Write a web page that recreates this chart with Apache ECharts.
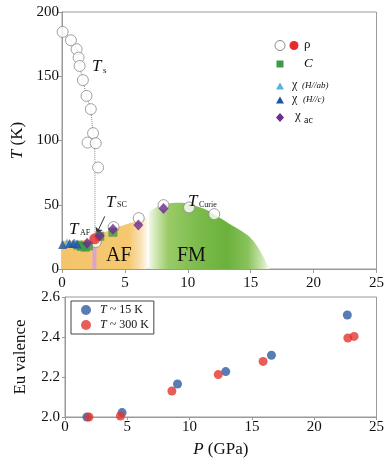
<!DOCTYPE html>
<html>
<head>
<meta charset="utf-8">
<script src="https://cdn.jsdelivr.net/npm/echarts@6/dist/echarts.min.js"></script>
<style>
  html, body { margin: 0; padding: 0; background: #fff; }
  #chart { width: 387px; height: 464px; }
</style>
</head>
<body>
<div id="chart"></div>
<script>
// ---- Phase diagram (P, T) ----
const tsCircles = [[0.05,184.5],[0.71,178],[1.16,171],[1.32,164.5],[1.4,158],[1.66,147],[1.95,134.7],[2.29,124.4],[2.47,105.7],[2.03,98.4],[2.68,97.9],[2.87,79]];
const tsLine = [[0.05,184.5],[0.71,178],[1.16,171],[1.32,164.5],[1.4,158],[1.66,147],[1.95,134.7],[2.29,124.4],[2.47,105.7],[2.6,98],[2.62,79],[2.62,24]];
const rhoOpen = [[2.68,21],[4.1,32.6],[6.1,39.6],[8.07,49.7],[10.1,47.9],[12.1,42.7]];
const rhoSC = [[2.6,23.5]];
const heatC = [[1.3,18.5],[1.55,17.5],[1.85,17],[2.1,18],[3.0,25.5],[4.05,28.6]];
const chiAB = [[0.4,20.5],[1.0,20.5]];
const chiC = [[0.05,19],[0.6,19.8],[0.9,19.8],[1.2,19.5]];
const chiAC = [[2.0,20],[3.0,25.8],[4.05,31],[6.07,34.3],[8.07,47]];
const afBoundary = [[0,22],[2.5,23],[3,27],[4,31],[5,34.5],[6,37.5],[6.8,40]];
const fmBoundary = [[6.9,44],[7.5,48],[8.5,51],[9.5,51.5],[10.5,49.5],[11.5,46],[12.5,40],[13.5,34],[14.5,28],[15.2,22],[15.8,13],[16.5,0]];
const scBand = [[2.42,23],[2.74,23]];

// ---- Eu valence vs P ----
const pLowT = [1.76,4.58,9.03,12.9,16.57,22.66];
const vLowT = [2.0,2.022,2.165,2.227,2.309,2.51];
const pRoomT = [1.92,4.45,8.58,12.3,15.9,22.7,23.2];
const vRoomT = [2.0,2.005,2.13,2.212,2.278,2.395,2.403];

const xTicks = [0,5,10,15,20,25];
const tTicks = [0,50,100,150,200];
const vTicks = [2.0,2.2,2.4,2.6];

const SERIF = 'Liberation Serif';
const AXIS_GREY = '#9a9a9a';
const labelStyle = { fontFamily: SERIF, fontSize: 15, color: '#111' };

function zip(xs, ys) { return xs.map((x, i) => [x, ys[i]]); }

const chart = echarts.init(document.getElementById('chart'), null, { renderer: 'canvas' });

const afGrad = new echarts.graphic.LinearGradient(0, 0, 1, 0, [
  { offset: 0, color: '#f4c46a' },
  { offset: 0.78, color: '#f5c870' },
  { offset: 0.92, color: '#f9e2b4' },
  { offset: 1, color: '#fffaf2' }
]);
const fmGrad = new echarts.graphic.LinearGradient(0, 0, 1, 0, [
  { offset: 0, color: '#f2f8ea' },
  { offset: 0.06, color: '#cfe6b1' },
  { offset: 0.16, color: '#9acb68' },
  { offset: 0.4, color: '#7cbc4c' },
  { offset: 0.65, color: '#6cb13c' },
  { offset: 0.82, color: '#88c25c' },
  { offset: 0.93, color: '#c6e3a8' },
  { offset: 1, color: '#f5faef' }
]);

const ticksInside = { show: true, inside: true, length: 4, lineStyle: { color: AXIS_GREY } };
const ticksOutside = { show: true, inside: false, length: 3, lineStyle: { color: AXIS_GREY } };

const option = {
  animation: false,
  backgroundColor: '#fff',
  grid: [
    { left: 62, top: 12, width: 317, height: 257, show: true, borderColor: AXIS_GREY, borderWidth: 1 },
    { left: 65, top: 297, width: 313, height: 120, show: true, borderColor: AXIS_GREY, borderWidth: 1 }
  ],
  xAxis: [
    { gridIndex: 0, type: 'value', min: 0, max: 25, interval: 5, position: 'bottom',
      axisLine: { lineStyle: { color: AXIS_GREY } }, axisTick: ticksOutside,
      axisLabel: Object.assign({ margin: 7 }, labelStyle), splitLine: { show: false } },
    { gridIndex: 0, type: 'value', min: 0, max: 25, interval: 5, position: 'top',
      axisLine: { lineStyle: { color: AXIS_GREY } }, axisTick: ticksInside,
      axisLabel: { show: false }, splitLine: { show: false } },
    { gridIndex: 1, type: 'value', min: 0, max: 25, interval: 5,
      name: '{i|P} (GPa)', nameLocation: 'middle', nameGap: 24,
      nameTextStyle: { fontFamily: SERIF, fontSize: 17, color: '#111', rich: { i: { fontFamily: SERIF, fontStyle: 'italic', fontSize: 17, color: '#111' } } },
      axisLine: { lineStyle: { color: AXIS_GREY } }, axisTick: ticksOutside,
      axisLabel: Object.assign({ margin: 3 }, labelStyle), splitLine: { show: false } }
  ],
  yAxis: [
    { gridIndex: 0, type: 'value', min: 0, max: 200, interval: 50,
      name: '{i|T} (K)', nameLocation: 'middle', nameGap: 34, nameRotate: 90,
      nameTextStyle: { fontFamily: SERIF, fontSize: 17, color: '#111', rich: { i: { fontFamily: SERIF, fontStyle: 'italic', fontSize: 17, color: '#111' } } },
      axisLine: { show: true, lineStyle: { color: AXIS_GREY } }, axisTick: ticksOutside,
      axisLabel: Object.assign({ margin: 3 }, labelStyle), splitLine: { show: false } },
    { gridIndex: 0, type: 'value', min: 0, max: 200, interval: 50, position: 'right',
      axisLine: { show: true, lineStyle: { color: AXIS_GREY } }, axisTick: ticksInside,
      axisLabel: { show: false }, splitLine: { show: false } },
    { gridIndex: 1, type: 'value', min: 2.0, max: 2.6, interval: 0.2,
      name: 'Eu valence', nameLocation: 'middle', nameGap: 36, nameRotate: 90,
      nameTextStyle: { fontFamily: SERIF, fontSize: 17, color: '#111' },
      axisLine: { show: true, lineStyle: { color: AXIS_GREY } }, axisTick: ticksOutside,
      axisLabel: Object.assign({ margin: 5, formatter: v => v.toFixed(1) }, labelStyle), splitLine: { show: false } }
  ],
  legend: {
    data: ['T ~ 15 K', 'T ~ 300 K'],
    orient: 'vertical', left: 71, top: 301,
    padding: [3, 5, 3, 10], itemGap: 3, itemWidth: 10, itemHeight: 10,
    borderColor: '#444', borderWidth: 1, icon: 'circle',
    formatter: n => n.replace('T', '{i|T}'),
    textStyle: { fontFamily: SERIF, fontSize: 12, color: '#111', padding: [0, 0, 0, 4],
      rich: { i: { fontFamily: SERIF, fontStyle: 'italic', fontSize: 12, color: '#111' } } }
  },
  series: [
    { name: 'AF', type: 'line', xAxisIndex: 0, yAxisIndex: 0, data: afBoundary, smooth: 0.3,
      symbol: 'none', lineStyle: { width: 0 }, areaStyle: { color: afGrad, opacity: 1 }, z: 1, silent: true },
    { name: 'FM', type: 'line', xAxisIndex: 0, yAxisIndex: 0, data: fmBoundary, smooth: 0.4,
      symbol: 'none', lineStyle: { width: 0 }, areaStyle: { color: fmGrad, opacity: 1 }, z: 1, silent: true },
    { name: 'SC', type: 'line', xAxisIndex: 0, yAxisIndex: 0, data: scBand,
      symbol: 'none', lineStyle: { width: 0 }, areaStyle: { color: '#dba4cc', opacity: 1 }, z: 2, silent: true },
    { name: 'Ts line', type: 'line', xAxisIndex: 0, yAxisIndex: 0, data: tsLine,
      symbol: 'none', lineStyle: { width: 1, type: 'dotted', color: '#8a8a8a' }, z: 3, silent: true },
    { name: 'rho Ts', type: 'scatter', xAxisIndex: 0, yAxisIndex: 0, data: tsCircles, symbol: 'circle', symbolSize: 11,
      itemStyle: { color: '#fff', borderColor: '#8a8a8a', borderWidth: 1 }, z: 4 },
    { name: 'rho', type: 'scatter', xAxisIndex: 0, yAxisIndex: 0, data: rhoOpen, symbol: 'circle', symbolSize: 11,
      itemStyle: { color: '#fff', borderColor: '#8a8a8a', borderWidth: 1 }, z: 4 },
    { name: 'C', type: 'scatter', xAxisIndex: 0, yAxisIndex: 0, data: heatC, symbol: 'rect', symbolSize: 9,
      itemStyle: { color: '#3f9a48' }, z: 5 },
    { name: 'chi ab', type: 'scatter', xAxisIndex: 0, yAxisIndex: 0, data: chiAB, symbol: 'triangle', symbolSize: 9,
      itemStyle: { color: '#56b2e3' }, z: 5 },
    { name: 'chi c', type: 'scatter', xAxisIndex: 0, yAxisIndex: 0, data: chiC, symbol: 'triangle', symbolSize: 9,
      itemStyle: { color: '#2052a3' }, z: 5 },
    { name: 'rho SC', type: 'scatter', xAxisIndex: 0, yAxisIndex: 0, data: rhoSC, symbol: 'circle', symbolSize: 11,
      itemStyle: { color: '#e52b2b' }, z: 6,
      markLine: { silent: true, symbol: ['none', 'arrow'], symbolSize: 6, label: { show: false },
        lineStyle: { color: '#333', width: 1, type: 'solid' },
        data: [[{ coord: [3.4, 41] }, { coord: [2.75, 27.5] }]] } },
    { name: 'chi ac', type: 'scatter', xAxisIndex: 0, yAxisIndex: 0, data: chiAC, symbol: 'diamond', symbolSize: [10, 11],
      itemStyle: { color: '#6b2c8e' }, z: 7 },
    { name: 'T ~ 15 K', type: 'scatter', xAxisIndex: 2, yAxisIndex: 2, data: zip(pLowT, vLowT), symbol: 'circle', symbolSize: 9,
      itemStyle: { color: '#2d5da3' }, z: 4 },
    { name: 'T ~ 300 K', type: 'scatter', xAxisIndex: 2, yAxisIndex: 2, data: zip(pRoomT, vRoomT), symbol: 'circle', symbolSize: 9,
      itemStyle: { color: '#e3352f' }, z: 5 }
  ]
};

// Annotation text and the top-panel key
function txt(x, y, s, size, opts) {
  return Object.assign({ type: 'text', left: x, top: y, z: 20,
    style: Object.assign({ text: s, fontFamily: SERIF, fontSize: size, fill: '#111' }, opts || {}) });
}
function italic(x, y, s, size) { return txt(x, y, s, size, { fontStyle: 'italic' }); }

const graphics = [
  // labels on the diagram
  italic(92, 58, 'T', 17), txt(103, 66, 's', 9),
  italic(106, 194, 'T', 17), txt(117, 201, 'SC', 8),
  italic(69, 221, 'T', 17), txt(80, 229, 'AF', 8),
  italic(188, 193, 'T', 17), txt(199, 201, 'Curie', 8),
  txt(106, 246, 'AF', 20), txt(177, 246, 'FM', 20),
  // key
  { type: 'circle', shape: { cx: 280, cy: 45.5, r: 5 }, style: { fill: '#fff', stroke: '#8a8a8a', lineWidth: 1 }, z: 20 },
  { type: 'circle', shape: { cx: 294, cy: 45.5, r: 4.5 }, style: { fill: '#e52b2b' }, z: 20 },
  txt(304, 38, 'ρ', 13),
  { type: 'rect', shape: { x: 276.5, y: 60.5, width: 7, height: 7 }, style: { fill: '#3f9a48' }, z: 20 },
  italic(304, 57, 'C', 13),
  { type: 'polygon', shape: { points: [[280, 82.5], [284, 89.5], [276, 89.5]] }, style: { fill: '#56b2e3' }, z: 20 },
  txt(292, 79, 'χ', 12), italic(302, 81, '(H//ab)', 9),
  { type: 'polygon', shape: { points: [[280, 96.5], [284, 103.5], [276, 103.5]] }, style: { fill: '#2052a3' }, z: 20 },
  txt(292, 93, 'χ', 12), italic(303, 95, '(H//c)', 9),
  { type: 'polygon', shape: { points: [[280, 113], [284, 117.5], [280, 122], [276, 117.5]] }, style: { fill: '#6b2c8e' }, z: 20 },
  txt(295, 109, 'χ', 13), txt(304, 115, 'ac', 10)
];
option.graphic = graphics;

chart.setOption(option);
</script>
</body>
</html>
